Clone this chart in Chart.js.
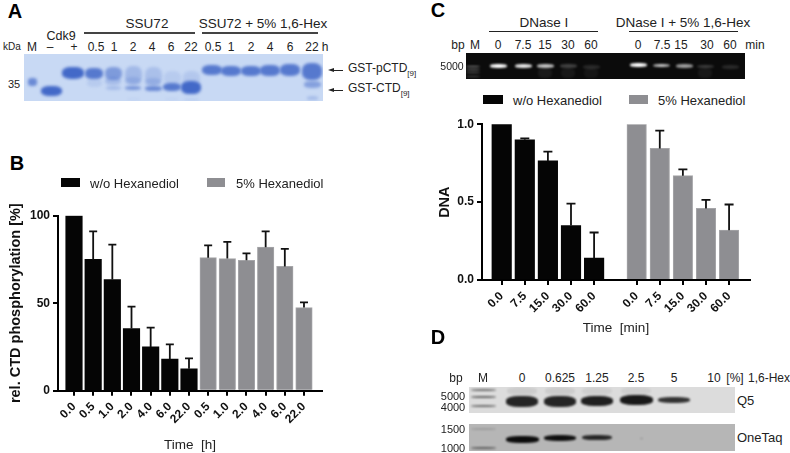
<!DOCTYPE html>
<html>
<head>
<meta charset="utf-8">
<style>
  html, body { margin: 0; background: #fff; width: 790px; height: 453px; overflow: hidden; }
  body { position: relative; font-family: "Liberation Sans", Arial, sans-serif; color: #222; }
  canvas { position: absolute; }
  .t { position: absolute; white-space: nowrap; line-height: 1; transform: translate(-50%, -50%); }
  .l { transform: translate(0, -50%); }
  .gel { position: absolute; overflow: hidden; }
  .band { position: absolute; border-radius: 40%; }
  .box { position: absolute; }
  .head { position: absolute; width: 0; height: 0; border-top: 2.5px solid transparent; border-bottom: 2.5px solid transparent; border-right: 6px solid #222; }
</style>
<script src="https://cdn.jsdelivr.net/npm/chart.js@4"></script>
</head>
<body>
<canvas id="chart-b" width="340" height="263" style="left:0;top:190px"></canvas>
<canvas id="chart-c" width="340" height="225" style="left:420px;top:115px"></canvas>
<script>
const BLACK = '#050505';
const GREY = '#8e8e92';

// panel B
const hoursWithout = ['0.0', '0.5', '1.0', '2.0', '4.0', '6.0', '22.0'];
const phosWithout = [100, 75, 63.5, 35.5, 25, 18, 12.5];
const phosWithoutTop = [100, 91, 83.5, 48, 36, 26.5, 18.5];
const hoursHex = ['0.5', '1.0', '2.0', '4.0', '6.0', '22.0'];
const phosHex = [76, 75.5, 74.5, 82, 71, 47.5];
const phosHexTop = [83, 85, 78.5, 91, 81, 50.5];

// panel C
const minutes = ['0.0', '7.5', '15.0', '30.0', '60.0'];
const dnaWithout = [1.0, 0.9, 0.765, 0.35, 0.14];
const dnaWithoutTop = [1.0, 0.91, 0.825, 0.49, 0.305];
const dnaHex = [1.0, 0.845, 0.67, 0.46, 0.32];
const dnaHexTop = [1.0, 0.96, 0.71, 0.515, 0.485];

function text(str, x, y, size, opts) {
  opts = opts || {};
  const el = document.createElement('div');
  el.className = 't' + (opts.left ? ' l' : '');
  el.innerHTML = str;
  el.style.left = x + 'px';
  el.style.top = y + 'px';
  el.style.fontSize = size + 'px';
  if (opts.bold) el.style.fontWeight = 'bold';
  if (opts.color) el.style.color = opts.color;
  document.body.appendChild(el);
}

function box(x, y, w, h, color) {
  const el = document.createElement('div');
  el.className = 'box';
  el.style.cssText = `left:${x}px;top:${y}px;width:${w}px;height:${h}px;background:${color}`;
  document.body.appendChild(el);
}

function arrow(x, y) {
  box(x + 5, y - 0.5, 10, 1, '#222');
  const el = document.createElement('div');
  el.className = 'head';
  el.style.left = x + 'px';
  el.style.top = (y - 2.5) + 'px';
  document.body.appendChild(el);
}

// gel image: a background rectangle with blurred bands, band = [cx, cy, w, h, opacity]
function gel(x, y, w, h, background, color, bands, blur) {
  const el = document.createElement('div');
  el.className = 'gel';
  el.style.cssText = `left:${x}px;top:${y}px;width:${w}px;height:${h}px;background:${background}`;
  bands.forEach(b => {
    const band = document.createElement('div');
    band.className = 'band';
    band.style.cssText = `left:${b[0] - x - b[2] / 2}px;top:${b[1] - y - b[3] / 2}px;width:${b[2]}px;height:${b[3]}px;` +
      `background:${color};opacity:${b[4]};filter:blur(${blur}px)`;
    el.appendChild(band);
  });
  document.body.appendChild(el);
}

// upper error bars, drawn from the same scales as the bars
const whiskers = {
  id: 'whiskers',
  afterDatasetsDraw(chart, args, opts) {
    const ctx = chart.ctx;
    const y = chart.scales.y;
    ctx.save();
    ctx.strokeStyle = '#111';
    ctx.lineWidth = 1.8;
    chart.data.datasets.forEach((ds, d) => {
      chart.getDatasetMeta(d).data.forEach((bar, i) => {
        const top = ds.tops[i];
        if (top <= ds.data[i].y) return;
        const py = y.getPixelForValue(top);
        ctx.beginPath();
        ctx.moveTo(bar.x, bar.y);
        ctx.lineTo(bar.x, py);
        ctx.moveTo(bar.x - opts.cap, py);
        ctx.lineTo(bar.x + opts.cap, py);
        ctx.stroke();
      });
    });
    ctx.restore();
  }
};

function points(values, start) {
  return values.map((v, i) => ({x: start + i, y: v}));
}

// rotated tick labels must not push the plot area in
function noMargins(scale) {
  scale.paddingLeft = 0;
  scale.paddingRight = 0;
  scale.paddingTop = 0;
  scale.paddingBottom = 0;
}

function barChart(id, cfg) {
  const canvas = document.getElementById(id);
  return new Chart(canvas, {
    type: 'bar',
    data: {
      datasets: [
        {data: cfg.first, tops: cfg.firstTops, backgroundColor: BLACK, barThickness: cfg.barWidth, grouped: false},
        {data: cfg.second, tops: cfg.secondTops, backgroundColor: GREY, borderColor: '#a6a6a9', borderWidth: 1, barThickness: cfg.barWidth, grouped: false}
      ]
    },
    plugins: [whiskers],
    options: {
      responsive: false,
      animation: false,
      layout: {padding: cfg.padding},
      plugins: {legend: {display: false}, tooltip: {enabled: false}, whiskers: {cap: cfg.cap}},
      scales: {
        x: {
          type: 'linear',
          offset: false,
          min: cfg.xMin,
          max: cfg.xMax,
          afterBuildTicks: scale => { scale.ticks = cfg.tickValues.map(v => ({value: v})); },
          afterFit: scale => { scale.height = cfg.xHeight; noMargins(scale); },
          border: {color: '#000', width: 2},
          grid: {offset: false, drawOnChartArea: false, color: '#000', lineWidth: 2, tickLength: 5},
          ticks: {
            autoSkip: false,
            minRotation: 45,
            maxRotation: 45,
            padding: 4,
            color: '#111',
            font: {family: 'Liberation Sans', size: 12, weight: 'bold'},
            callback: (v, i) => cfg.tickLabels[i]
          },
          title: {
            display: true,
            text: cfg.xTitle,
            color: '#222',
            padding: {top: 0, bottom: cfg.xTitleGap},
            font: {family: 'Liberation Sans', size: 13.5}
          }
        },
        y: {
          min: 0,
          max: cfg.yMax,
          afterBuildTicks: scale => { scale.ticks = cfg.yTicks.map(v => ({value: v})); },
          afterFit: scale => { scale.width = cfg.yWidth; noMargins(scale); },
          border: {color: '#000', width: 2},
          grid: {drawOnChartArea: false, color: '#000', lineWidth: 2, tickLength: 5},
          ticks: {
            padding: 3,
            color: '#111',
            font: {family: 'Liberation Sans', size: 12, weight: 'bold'},
            callback: v => cfg.yFormat(v)
          },
          title: {
            display: true,
            text: cfg.yTitle,
            color: '#111',
            padding: {top: cfg.yTitleGap, bottom: 0},
            font: {family: 'Liberation Sans', size: cfg.yTitleSize, weight: 'bold'}
          }
        }
      }
    }
  });
}

barChart('chart-b', {
  first: points(phosWithout, 0),
  firstTops: phosWithoutTop,
  second: points(phosHex, hoursWithout.length),
  secondTops: phosHexTop,
  barWidth: 16.5,
  cap: 4,
  padding: {top: 25.7, right: 18, left: 0, bottom: 0},
  xMin: -0.835,
  xMax: 12.94,
  xHeight: 62.3,
  yWidth: 58,
  yMax: 100,
  yTicks: [0, 50, 100],
  yFormat: v => String(v),
  tickValues: hoursWithout.concat(hoursHex).map((h, i) => i),
  tickLabels: hoursWithout.concat(hoursHex),
  xTitle: 'Time  [h]',
  xTitleGap: 0,
  yTitle: 'rel. CTD phosphorylation [%]',
  yTitleGap: 7,
  yTitleSize: 14.5
});

// the two groups in C sit a bit less than two bar widths apart
const hexStart = 5.844;
barChart('chart-c', {
  first: points(dnaWithout, 0),
  firstTops: dnaWithoutTop,
  second: points(dnaHex, hexStart),
  secondTops: dnaHexTop,
  barWidth: 19.5,
  cap: 4.5,
  padding: {top: 9.3, right: 10, left: 0, bottom: 0},
  xMin: -0.853,
  xMax: 10.75,
  xHeight: 60,
  yWidth: 62,
  yMax: 1,
  yTicks: [0, 0.5, 1],
  yFormat: v => v.toFixed(1),
  tickValues: minutes.map((m, i) => i).concat(minutes.map((m, i) => i + hexStart)),
  tickLabels: minutes.concat(minutes),
  xTitle: 'Time  [min]',
  xTitleGap: 4,
  yTitle: 'DNA',
  yTitleGap: 16,
  yTitleSize: 14.5
});

// panel letters
text('A', 15, 11, 20, {bold: true, color: '#000'});
text('B', 17, 163, 20, {bold: true, color: '#000'});
text('C', 438, 10, 20, {bold: true, color: '#000'});
text('D', 438, 337, 20, {bold: true, color: '#000'});

// panel A gel
gel(24, 54, 299, 47, '#c8d9f4', '#4369c8', [
  [32, 82, 9, 8, .7],
  [51, 91, 21, 10, 1], [73, 73, 22, 12, 1],
  [94, 73, 18, 11, .85], [94, 83, 15, 8, .12],
  [113, 73, 17, 13, .55], [113, 81, 16, 8, .25], [113, 88, 15, 4, .25],
  [133, 75, 17, 18, .28], [133, 81, 16, 8, .2], [133, 88, 16, 4, .6],
  [153, 76, 17, 18, .22], [153, 82, 16, 8, .22], [153, 88, 17, 5, .7],
  [172, 78, 17, 14, .12], [172, 87, 18, 8, .85],
  [191, 78, 17, 14, .15], [191, 87, 20, 13, 1],
  [212, 70, 20, 10, .85], [231, 71, 20, 10, .85], [251, 71, 20, 10, .85],
  [270, 70, 20, 11, .85], [290, 70, 20, 12, .85],
  [312, 71, 20, 17, .85], [312, 84, 17, 7, .5], [312, 98, 11, 4, .25],
  [191, 99, 15, 3, .08], [133, 99, 13, 2, .06], [171, 99, 13, 2, .06]
], 1.6);
text('SSU72', 147, 24, 13.5);
text('SSU72 + 5% 1,6-Hex', 263, 24, 13.5);
box(84, 32, 111, 1.5, '#444');
box(202, 32, 116, 1.5, '#444');
text('Cdk9', 61, 36, 12.5);
text('kDa', 12, 47, 10);
const laneLabelsA = [['M', 32], ['–', 50], ['+', 74], ['0.5', 96], ['1', 114], ['2', 133], ['4', 152], ['6', 171], ['22', 191],
  ['0.5', 213], ['1', 231], ['2', 251], ['4', 270], ['6', 290], ['22', 312], ['h', 325]];
laneLabelsA.forEach(l => text(l[0], l[1], 47, 12));
text('35', 14, 84, 11);
arrow(328, 70);
text('GST-pCTD<sub style="font-size:8px">[9]</sub>', 348, 70, 12, {left: true});
arrow(328, 90);
text('GST-CTD<sub style="font-size:8px">[9]</sub>', 348, 90, 12, {left: true});

// panel B legend
box(61, 178, 19, 9, BLACK);
text('w/o Hexanediol', 90, 183, 13, {left: true});
box(207, 178, 18, 9, GREY);
text('5% Hexanediol', 236, 183, 13, {left: true});

// panel C gel
gel(466, 53, 279, 26, '#0b0b0b', '#fff', [
  [473, 66, 14, 1, .6], [473, 69, 14, 1, .5], [473, 72.5, 14, 1, .4], [473, 76, 14, 1, .3],
  [498, 66, 17, 4, 1], [523, 66, 17, 4, .9], [545, 66, 17, 3.5, .75],
  [568, 66, 17, 3.5, .22], [591, 67, 17, 3.5, .12],
  [638, 65, 17, 4, 1], [661, 65.5, 17, 3.5, .75], [684, 66, 17, 3.5, .6],
  [705, 66.5, 17, 3.5, .2], [730, 67, 17, 3.5, .12],
  [568, 73, 14, 10, .05], [591, 73, 14, 10, .04], [545, 73, 14, 10, .06], [705, 73, 14, 10, .05]
], 0.8);
text('DNase I', 544, 23, 13.5);
text('DNase I + 5% 1,6-Hex', 683, 23, 13.5);
box(489, 31, 109, 1.2, '#222');
box(629, 31, 109, 1.2, '#222');
const laneLabelsC = [['bp', 458], ['M', 475], ['0', 498], ['7.5', 523], ['15', 545], ['30', 568], ['60', 591],
  ['0', 638], ['7.5', 662], ['15', 681], ['30', 707], ['60', 730], ['min', 755]];
laneLabelsC.forEach(l => text(l[0], l[1], 45, 12));
text('5000', 452, 66, 10.5);

// panel C legend
box(483, 95, 20, 9, BLACK);
text('w/o Hexanediol', 513, 100, 13, {left: true});
box(629, 95, 19, 9, GREY);
text('5% Hexanediol', 658, 100, 13, {left: true});

// panel D gels
gel(469, 387, 266, 26, '#dcdcdc', '#161616', [
  [483, 390, 25, 2, .55], [483, 397, 25, 2, .6], [483, 406, 25, 2, .55],
  [522, 401, 32, 11, .92], [560, 401, 32, 11, .92], [597, 401, 32, 10, .95], [636, 400, 33, 10, .98], [674, 400, 32, 6, .85],
  [522, 391, 30, 8, .08], [560, 391, 30, 8, .08], [597, 391, 30, 8, .06], [636, 391, 30, 8, .06]
], 0.9);
gel(469, 424, 266, 27, '#b6b6b6', '#0c0c0c', [
  [483, 429, 25, 2, .15], [483, 448, 25, 2, .5],
  [522, 439, 33, 7, 1], [560, 438, 32, 6.5, .98], [597, 437.5, 30, 5, .85], [641, 438, 3, 1, .3]
], 0.8);
const laneLabelsD = [['bp', 456], ['M', 483], ['0', 522], ['0.625', 560], ['1.25', 597], ['2.5', 636], ['5', 674], ['10', 714], ['[%]', 735], ['1,6-Hex', 769]];
laneLabelsD.forEach(l => text(l[0], l[1], 378, 12));
text('5000', 453, 396, 11);
text('4000', 453, 407, 11);
text('1500', 453, 429, 11);
text('1000', 453, 448, 11);
text('Q5', 737, 400, 13, {left: true});
text('OneTaq', 737, 437, 13, {left: true});
</script>
</body>
</html>
